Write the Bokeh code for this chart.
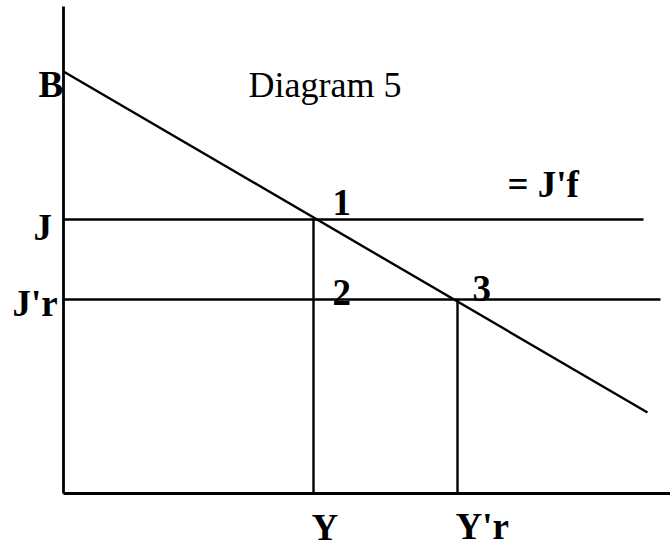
from bokeh.plotting import figure
from bokeh.models import Range1d, ColumnDataSource
from bokeh.core.properties import value
from bokeh.embed import file_html
from bokeh.resources import INLINE

# ---- data (arbitrary units, origin at the axes corner) ----
Y_level = 250        # Y
Yr_level = 394       # Y'r
J_level = 274        # J = J'f
Jr_level = 194       # J'r
B_level = 422        # B (intercept of the sloping line)
demand_x = [0, 584]
demand_y = [422, 81]
axis_y_top = 487
axis_x_end = 607
J_line_end = 580
Jr_line_end = 597

FONT = value("Liberation Serif")
LIFT = 13  # baseline correction for the renderer

p = figure(width=670, height=548, output_backend="svg", toolbar_location=None,
           x_range=Range1d(-63, 607), y_range=Range1d(-55, 493),
           min_border=0, min_border_left=0, min_border_right=0,
           min_border_top=0, min_border_bottom=0)
p.axis.visible = False
p.grid.visible = False
p.outline_line_color = None
p.background_fill_color = "white"
p.border_fill_color = "white"

# axes
p.line([0, 0], [0, axis_y_top], line_color="black", line_width=2.8)
p.line([0, axis_x_end], [0, 0], line_color="black", line_width=2.8)

# sloping line
p.line(demand_x, demand_y, line_color="black", line_width=2.4)

# horizontal levels
p.line([0, J_line_end], [J_level, J_level], line_color="black", line_width=2.4)
p.line([0, Jr_line_end], [Jr_level, Jr_level], line_color="black", line_width=2.4)

# vertical drops
p.line([Y_level, Y_level], [0, J_level], line_color="black", line_width=2.4)
p.line([Yr_level, Yr_level], [0, Jr_level], line_color="black", line_width=2.4)

# bold labels
bx = [-25, -30, -51, Y_level + 19, Y_level + 19, Yr_level + 15, Y_level - 2, Yr_level - 2, 444]
by = [B_level - 26, J_level - 21, Jr_level - 17, J_level + 4, Jr_level - 6, Jr_level - 2, -47, -46, J_level + 22]
bold = ColumnDataSource(dict(
    x=bx,
    y=[v + LIFT for v in by],
    t=["B", "J", "J'r", "1", "2", "3", "Y", "Y'r", "= J'f"],
))
p.text(x="x", y="y", text="t", source=bold, text_font=FONT, text_font_style="bold",
       text_font_size="37px", text_color="black", text_align="left",
       text_baseline="alphabetic")

p.text(x=[185], y=[B_level - 26 + LIFT], text=["Diagram 5"], text_font=FONT,
       text_font_size="36px", text_color="black", text_align="left",
       text_baseline="alphabetic")

open("out.html", "w").write(file_html(p, INLINE))
